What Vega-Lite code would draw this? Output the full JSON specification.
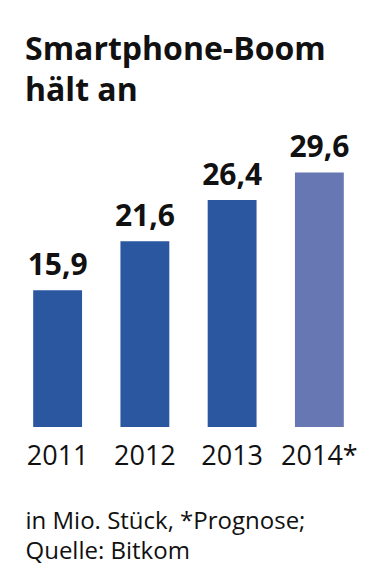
{
  "$schema": "https://vega.github.io/schema/vega-lite/v6.json",
  "autosize": "none",
  "width": 349,
  "height": 258,
  "padding": {"left": 14, "top": 169, "right": 15, "bottom": 158},
  "background": "white",
  "config": {"view": {"stroke": null}, "font": "Open Sans"},
  "title": {
    "text": ["Smartphone-Boom", "hält an"],
    "anchor": "start",
    "frame": "group",
    "fontSize": 32,
    "fontWeight": "bold",
    "font": "Open Sans",
    "color": "#111111",
    "lineHeight": 41,
    "baseline": "alphabetic",
    "dx": 11,
    "offset": 0,
    "dy": 0
  },
  "data": {
    "values": [
      {"year": "2011", "value": 15.9, "label": "15,9", "type": "actual"},
      {"year": "2012", "value": 21.6, "label": "21,6", "type": "actual"},
      {"year": "2013", "value": 26.4, "label": "26,4", "type": "actual"},
      {"year": "2014*", "value": 29.6, "label": "29,6", "type": "forecast"}
    ]
  },
  "encoding": {
    "x": {
      "field": "year",
      "type": "nominal",
      "sort": null,
      "scale": {"paddingInner": 0.44, "paddingOuter": 0.22},
      "axis": {
        "domain": false,
        "ticks": false,
        "labelAngle": 0,
        "labelFont": "Open Sans",
        "labelFontSize": 27,
        "labelColor": "#111111",
        "labelPadding": 16,
        "title": ["in Mio. Stück, *Prognose;", "Quelle: Bitkom"],
        "titleFont": "Open Sans",
        "titleFontSize": 24,
        "titleFontWeight": "normal",
        "titleColor": "#111111",
        "titleAnchor": "start",
        "titleAlign": "left",
        "titleX": 11,
        "titleLineHeight": 30,
        "titlePadding": 40
      }
    },
    "y": {
      "field": "value",
      "type": "quantitative",
      "scale": {"domain": [0, 30]},
      "axis": null
    }
  },
  "layer": [
    {
      "mark": {"type": "bar"},
      "encoding": {
        "color": {
          "field": "type",
          "type": "nominal",
          "scale": {"domain": ["actual", "forecast"], "range": ["#2b56a0", "#6677b3"]},
          "legend": null
        }
      }
    },
    {
      "mark": {"type": "text", "baseline": "alphabetic", "dy": -15, "fontSize": 30, "fontWeight": "bold", "font": "Open Sans", "color": "#111111"},
      "encoding": {"text": {"field": "label"}}
    }
  ]
}
